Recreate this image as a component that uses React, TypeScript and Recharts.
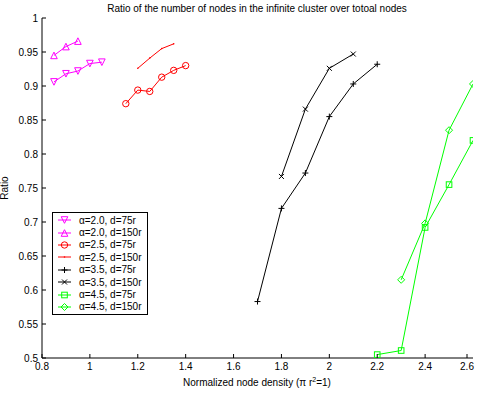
import React from 'react';
import { LineChart, Line, XAxis, YAxis, Label } from 'recharts';

// Valores (densidade normalizada x razão)
const x20a = [0.85, 0.9, 0.95, 1.0, 1.05];
const y20a = [0.906, 0.918, 0.922, 0.933, 0.935];
const x20b = [0.85, 0.9, 0.95];
const y20b = [0.945, 0.958, 0.966];
const x25a = [1.15, 1.2, 1.25, 1.3, 1.35, 1.4];
const y25a = [0.874, 0.894, 0.892, 0.913, 0.923, 0.93];
const x25b = [1.2, 1.25, 1.3, 1.35];
const y25b = [0.926, 0.941, 0.955, 0.962];
const x35a = [1.7, 1.8, 1.9, 2.0, 2.1, 2.2];
const y35a = [0.583, 0.72, 0.772, 0.855, 0.903, 0.932];
const x35b = [1.8, 1.9, 2.0, 2.1];
const y35b = [0.767, 0.866, 0.926, 0.947];
const x45a = [2.2, 2.3, 2.4, 2.5, 2.6];
const y45a = [0.505, 0.511, 0.692, 0.755, 0.82];
const x45b = [2.3, 2.4, 2.5, 2.6];
const y45b = [0.615, 0.698, 0.835, 0.903];

const xTicks = [0.8, 1, 1.2, 1.4, 1.6, 1.8, 2, 2.2, 2.4, 2.6];
const yTicks = [0.5, 0.55, 0.6, 0.65, 0.7, 0.75, 0.8, 0.85, 0.9, 0.95, 1];

const FONT = '"Liberation Sans", Arial, sans-serif';

const zip = (xs: number[], ys: number[]) => xs.map((x, i) => ({ x, y: ys[i] }));

const series = [
  { name: 'α=2.0, d=75r', color: '#ff00ff', marker: 'tri-down', data: zip(x20a, y20a) },
  { name: 'α=2.0, d=150r', color: '#ff00ff', marker: 'tri-up', data: zip(x20b, y20b) },
  { name: 'α=2.5, d=75r', color: '#ff0000', marker: 'circle', data: zip(x25a, y25a) },
  { name: 'α=2.5, d=150r', color: '#ff0000', marker: 'point', data: zip(x25b, y25b) },
  { name: 'α=3.5, d=75r', color: '#000000', marker: 'plus', data: zip(x35a, y35a) },
  { name: 'α=3.5, d=150r', color: '#000000', marker: 'cross', data: zip(x35b, y35b) },
  { name: 'α=4.5, d=75r', color: '#00ff00', marker: 'square', data: zip(x45a, y45a) },
  { name: 'α=4.5, d=150r', color: '#00ff00', marker: 'diamond', data: zip(x45b, y45b) },
];

const Marker = ({ cx, cy, type, color }: any) => {
  const s = 3.3;
  const p = { fill: 'none', stroke: color, strokeWidth: 1 };
  switch (type) {
    case 'tri-down':
      return <polygon {...p} points={`${cx - s},${cy - s} ${cx + s},${cy - s} ${cx},${cy + s}`} />;
    case 'tri-up':
      return <polygon {...p} points={`${cx - s},${cy + s} ${cx + s},${cy + s} ${cx},${cy - s}`} />;
    case 'circle':
      return <circle {...p} cx={cx} cy={cy} r={3.2} />;
    case 'point':
      return <circle cx={cx} cy={cy} r={0.8} fill={color} />;
    case 'plus':
      return <path {...p} d={`M${cx - 3},${cy}H${cx + 3}M${cx},${cy - 3}V${cy + 3}`} />;
    case 'cross':
      return <path {...p} d={`M${cx - 2.5},${cy - 2.5}L${cx + 2.5},${cy + 2.5}M${cx - 2.5},${cy + 2.5}L${cx + 2.5},${cy - 2.5}`} />;
    case 'square':
      return <rect {...p} x={cx - 2.8} y={cy - 2.8} width={5.6} height={5.6} />;
    case 'diamond':
      return <polygon {...p} points={`${cx},${cy - 3.5} ${cx + 3.5},${cy} ${cx},${cy + 3.5} ${cx - 3.5},${cy}`} />;
    default:
      return null;
  }
};

const XTick = ({ x, y, payload }: any) => (
  <g>
    <line x1={x} y1={y} x2={x} y2={y - 4} stroke="#000" />
    <text x={x} y={y + 12} textAnchor="middle" fontSize={10} fontFamily={FONT} fill="#000">
      {String(payload.value)}
    </text>
  </g>
);

const YTick = ({ x, y, payload }: any) => (
  <g>
    <line x1={x} y1={y} x2={x + 4} y2={y} stroke="#000" />
    <text x={x - 4} y={y + 3.5} textAnchor="end" fontSize={10} fontFamily={FONT} fill="#000">
      {String(payload.value)}
    </text>
  </g>
);

const XLabel = () => (
  <text x={257} y={386} textAnchor="middle" fontSize={10} fontFamily={FONT} fill="#000">
    Normalized node density (π r
    <tspan dy={-4} fontSize={7}>2</tspan>
    <tspan dy={4}>=1)</tspan>
  </text>
);

const LegendBox = () => (
  <div
    style={{
      position: 'absolute',
      left: 52,
      top: 212,
      border: '1px solid #000',
      background: '#fff',
      padding: '1px 5px 1px 4px',
      fontFamily: FONT,
      fontSize: 10,
    }}
  >
    {series.map((s) => (
      <div key={s.name} style={{ display: 'flex', alignItems: 'center', height: 12.4 }}>
        <svg width={15} height={12} style={{ marginRight: 7 }}>
          <line x1={1} y1={6} x2={14} y2={6} stroke={s.color} />
          <Marker cx={7.5} cy={6} type={s.marker} color={s.color} />
        </svg>
        <span style={{ color: '#000', whiteSpace: 'nowrap' }}>{s.name}</span>
      </div>
    ))}
  </div>
);

export default function App() {
  return (
    <div style={{ position: 'absolute', left: 0, top: 0, width: 477, height: 394, background: '#fff' }}>
      <LineChart width={477} height={394} margin={{ top: 18, right: 4, bottom: 0, left: 0 }}>
        <XAxis
          type="number"
          dataKey="x"
          domain={[0.8, 2.6]}
          ticks={xTicks}
          allowDataOverflow
          height={36}
          tickSize={0}
          tickMargin={0}
          tick={<XTick />}
          stroke="#000"
        >
          <Label content={<XLabel />} />
        </XAxis>
        <YAxis
          type="number"
          dataKey="y"
          domain={[0.5, 1]}
          ticks={yTicks}
          allowDataOverflow
          width={42}
          tickSize={0}
          tickMargin={0}
          tick={<YTick />}
          stroke="#000"
        >
          <Label
            value="Ratio"
            angle={-90}
            position="insideLeft"
            offset={4}
            style={{ fontSize: 10, fontFamily: FONT, fill: '#000', textAnchor: 'middle' }}
          />
        </YAxis>
        {series.map((s) => (
          <Line
            key={s.name}
            data={s.data}
            dataKey="y"
            name={s.name}
            stroke={s.color}
            strokeWidth={1}
            isAnimationActive={false}
            dot={(props: any) => (
              <Marker key={`${s.name}-${props.index}`} cx={props.cx} cy={props.cy} type={s.marker} color={s.color} />
            )}
            activeDot={false}
          />
        ))}
      </LineChart>
      <svg width={477} height={20} style={{ position: 'absolute', left: 0, top: 0, pointerEvents: 'none' }}>
        <text x={257} y={12} textAnchor="middle" fontSize={10} fontFamily={FONT} fill="#000">
          Ratio of the number of nodes in the infinite cluster over totoal nodes
        </text>
      </svg>
      <LegendBox />
    </div>
  );
}
